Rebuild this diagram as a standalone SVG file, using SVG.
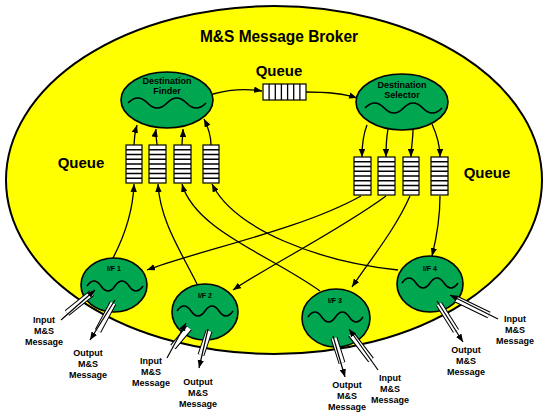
<svg xmlns="http://www.w3.org/2000/svg" width="550" height="417" viewBox="0 0 550 417">
<style>
.t{font-family:"Liberation Sans",Arial,sans-serif;font-weight:bold;fill:#000;text-anchor:middle}
.node{fill:#00A650;stroke:#000;stroke-width:1.6}
.wave{fill:none;stroke:#000;stroke-width:1.6}
.c{fill:none;stroke:#000;stroke-width:1.3;marker-end:url(#ah)}
.q{fill:#fff;stroke:#000;stroke-width:1.2}
.qd{stroke:#000;stroke-width:1.3}
.bo{stroke:#000;stroke-width:7}
.bi{stroke:#fff;stroke-width:5}
.ar{stroke:#000;stroke-width:1.2;marker-end:url(#ah)}
</style>
<defs>
<marker id="ah" viewBox="0 0 10 8" refX="10" refY="4" markerWidth="8" markerHeight="6.4" markerUnits="userSpaceOnUse" orient="auto"><path d="M0,0 L10,4 L0,8 z" fill="#000"/></marker>
</defs>
<rect width="550" height="417" fill="#fff"/>
<g id="broker">
<ellipse cx="274" cy="180" rx="268" ry="174" fill="#FFFF00" stroke="#000" stroke-width="2"/>
<text class="t" x="279" y="42" font-size="17" textLength="158" lengthAdjust="spacingAndGlyphs">M&amp;S Message Broker</text>
</g>
<g id="queue-labels">
<text class="t" x="279" y="76" font-size="15">Queue</text>
<text class="t" x="81" y="168" font-size="15">Queue</text>
<text class="t" x="487" y="178" font-size="15">Queue</text>
</g>
<g id="queue-top">
<rect class="q" x="263" y="84" width="43" height="16"/>
<path class="qd" d="M269.1,84V100M275.3,84V100M281.4,84V100M287.6,84V100M293.7,84V100M299.9,84V100"/>
</g>
<g id="queues-left">
<rect class="q" x="126" y="145" width="16" height="38"/>
<rect class="q" x="149" y="145" width="17" height="38"/>
<rect class="q" x="174" y="145" width="17" height="38"/>
<rect class="q" x="203" y="145" width="16" height="38"/>
<path class="qd" d="M126,149.75H142M126,154.5H142M126,159.25H142M126,164H142M126,168.75H142M126,173.5H142M126,178.25H142
M149,149.75H166M149,154.5H166M149,159.25H166M149,164H166M149,168.75H166M149,173.5H166M149,178.25H166
M174,149.75H191M174,154.5H191M174,159.25H191M174,164H191M174,168.75H191M174,173.5H191M174,178.25H191
M203,149.75H219M203,154.5H219M203,159.25H219M203,164H219M203,168.75H219M203,173.5H219M203,178.25H219"/>
</g>
<g id="queues-right">
<rect class="q" x="354" y="157" width="17" height="38"/>
<rect class="q" x="378" y="157" width="17" height="38"/>
<rect class="q" x="403" y="157" width="16" height="38"/>
<rect class="q" x="431" y="157" width="17" height="38"/>
<path class="qd" d="M354,161.75H371M354,166.5H371M354,171.25H371M354,176H371M354,180.75H371M354,185.5H371M354,190.25H371
M378,161.75H395M378,166.5H395M378,171.25H395M378,176H395M378,180.75H395M378,185.5H395M378,190.25H395
M403,161.75H419M403,166.5H419M403,171.25H419M403,176H419M403,180.75H419M403,185.5H419M403,190.25H419
M431,161.75H448M431,166.5H448M431,171.25H448M431,176H448M431,180.75H448M431,185.5H448M431,190.25H448"/>
</g>
<g id="destination-finder">
<ellipse class="node" cx="167" cy="100" rx="46" ry="28"/>
<text class="t" x="167" y="84" font-size="9">Destination</text>
<text class="t" x="167" y="94" font-size="9">Finder</text>
<path class="wave" d="M128,103 q9.75,-10 19.5,0 t19.5,0 t19.5,0 t19.5,0"/>
</g>
<g id="destination-selector">
<ellipse class="node" cx="402" cy="102" rx="46" ry="28"/>
<text class="t" x="402" y="88" font-size="9">Destination</text>
<text class="t" x="402" y="98" font-size="9">Selector</text>
<path class="wave" d="M365,108 q9.6,-10 19.25,0 t19.25,0 t19.25,0 t19.25,0"/>
</g>
<g id="if1">
<ellipse class="node" cx="114" cy="285" rx="33" ry="27"/>
<text class="t" x="114" y="271" font-size="7">I/F 1</text>
<path class="wave" d="M87,286 q7,-10 14,0 t14,0 t14,0 t14,0"/>
</g>
<g id="if2">
<ellipse class="node" cx="205" cy="312" rx="33" ry="28"/>
<text class="t" x="205" y="298" font-size="7">I/F 2</text>
<path class="wave" d="M177,311 q7,-10 14,0 t14,0 t14,0 t14,0"/>
</g>
<g id="if3">
<ellipse class="node" cx="336" cy="318" rx="34" ry="29"/>
<text class="t" x="335" y="303" font-size="7">I/F 3</text>
<path class="wave" d="M308,317 q6.9,-10 13.75,0 t13.75,0 t13.75,0 t13.75,0"/>
</g>
<g id="if4">
<ellipse class="node" cx="430" cy="284" rx="33" ry="28"/>
<text class="t" x="430" y="271" font-size="7">I/F 4</text>
<path class="wave" d="M402,283 q7,-10 14,0 t14,0 t14,0 t14,0"/>
</g>
<g id="connectors">
<path class="c" d="M213,94 C235,88 250,89 262,91"/>
<path class="c" d="M306,92 C325,92 345,94 357,98"/>
<path class="c" d="M134,145 C134,138 135,132 137,125"/>
<path class="c" d="M157,145 C157,140 155,135 156,129"/>
<path class="c" d="M182,145 C182,140 183,135 183,129"/>
<path class="c" d="M211,145 C211,135 208,127 204,119"/>
<path class="c" d="M367,125 C363,135 362,145 362,157"/>
<path class="c" d="M388,129 C386,140 386,148 386,157"/>
<path class="c" d="M413,129 C413,140 411,148 411,157"/>
<path class="c" d="M432,124 C437,135 440,145 440,157"/>
<path class="c" d="M113,258 C125,235 133,210 134,184"/>
<path class="c" d="M197,284 C180,250 160,220 158,184"/>
<path class="c" d="M320,291 C270,255 195,230 182,184"/>
<path class="c" d="M398,270 C320,262 235,230 212,184"/>
<path class="c" d="M361,196 C300,230 200,250 147,270"/>
<path class="c" d="M386,196 C340,230 270,265 233,290"/>
<path class="c" d="M410,196 C395,230 370,260 352,287"/>
<path class="c" d="M440,196 C440,220 436,240 432,256"/>
</g>
<g id="io-arrows">
<path class="bo" d="M67,313 L92,293 M113,303 L98,331 M173,347 L189,328 M209,331 L201,355 M334,338 L342,363 M351,334 L371,360 M439,304 L456,331 M456,299 L489,315"/>
<path class="bi" d="M67,313 L92,293 M113,303 L98,331 M173,347 L189,328 M209,331 L201,355 M334,338 L342,363 M351,334 L371,360 M439,304 L456,331 M456,299 L489,315"/>
<path class="ar" d="M61,320 L95,290"/>
<path class="ar" d="M115,300 L90,340"/>
<path class="ar" d="M167,358 L186,323"/>
<path class="ar" d="M208,329 L199,368"/>
<path class="ar" d="M333,336 L345,377"/>
<path class="ar" d="M378,370 L349,329"/>
<path class="ar" d="M437,301 L463,342"/>
<path class="ar" d="M498,319 L450,295"/>
</g>
<g id="io-labels">
<text class="t" font-size="9"><tspan x="44" y="323">Input</tspan><tspan x="44" y="334">M&amp;S</tspan><tspan x="44" y="345">Message</tspan></text>
<text class="t" font-size="9"><tspan x="88" y="356">Output</tspan><tspan x="88" y="367">M&amp;S</tspan><tspan x="88" y="378">Message</tspan></text>
<text class="t" font-size="9"><tspan x="151" y="364">Input</tspan><tspan x="151" y="375">M&amp;S</tspan><tspan x="151" y="386">Message</tspan></text>
<text class="t" font-size="9"><tspan x="198" y="385">Output</tspan><tspan x="198" y="396">M&amp;S</tspan><tspan x="198" y="407">Message</tspan></text>
<text class="t" font-size="9"><tspan x="347" y="388">Output</tspan><tspan x="347" y="399">M&amp;S</tspan><tspan x="347" y="410">Message</tspan></text>
<text class="t" font-size="9"><tspan x="390" y="381">Input</tspan><tspan x="390" y="392">M&amp;S</tspan><tspan x="390" y="403">Message</tspan></text>
<text class="t" font-size="9"><tspan x="466" y="353">Output</tspan><tspan x="466" y="364">M&amp;S</tspan><tspan x="466" y="375">Message</tspan></text>
<text class="t" font-size="9"><tspan x="515" y="322">Input</tspan><tspan x="515" y="333">M&amp;S</tspan><tspan x="515" y="344">Message</tspan></text>
</g>
</svg>
